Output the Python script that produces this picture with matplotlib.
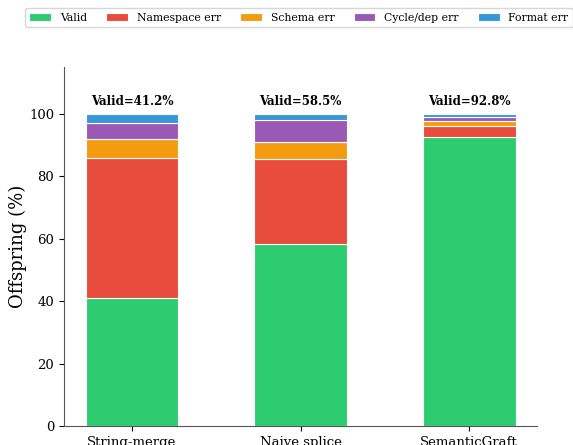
import numpy as np
import matplotlib
matplotlib.use("Agg")
import matplotlib.pyplot as plt

methods = ["String-merge", "Naive splice", "SemanticGraft"]
categories = ["Valid", "Namespace err", "Schema err", "Cycle/dep err", "Format err"]
valid = [41.2, 58.5, 92.8]
namespace_err = [44.7, 27.1, 3.3]
schema_err = [6.2, 5.4, 1.7]
cycle_err = [5.2, 7.1, 1.3]
format_err = [2.7, 1.9, 0.9]
colors = ["#2ecc71", "#e74c3c", "#f39c12", "#9b59b6", "#3498db"]

plt.rcParams["font.family"] = "DejaVu Serif"

fig = plt.figure(figsize=(5.73, 4.45), dpi=100)
ax = fig.add_axes([0.1117, 0.0427, 0.8255, 0.806])

x = np.arange(len(methods))
bottom = np.zeros(len(methods))
for name, vals, c in zip(categories,
                         [valid, namespace_err, schema_err, cycle_err, format_err],
                         colors):
    ax.bar(x, vals, 0.55, bottom=bottom, color=c, edgecolor="white",
           linewidth=0.8, label=name)
    bottom += np.array(vals)

# valid share above each stack
for xi, v, top in zip(x, valid, bottom):
    ax.text(xi, top + 2, "Valid=%.1f%%" % v, ha="center", va="bottom",
            fontsize=8.5, fontweight="bold")

ax.set_xticks(x)
ax.set_xticklabels(methods, fontsize=9.5)
ax.set_yticks([0, 20, 40, 60, 80, 100])
ax.tick_params(axis="y", labelsize=9.5)
ax.set_ylim(0, 115)
ax.set_ylabel("Offspring (%)", fontsize=13, labelpad=1.5)
for s in ["top", "right"]:
    ax.spines[s].set_visible(False)
for s in ["left", "bottom"]:
    ax.spines[s].set_color("#555555")

ax.legend(loc="lower left", bbox_to_anchor=(0.0436, 0.9393),
          bbox_transform=fig.transFigure, borderaxespad=0, ncol=5,
          fontsize=7.8, columnspacing=1.8, frameon=True)

fig.savefig("out.png", dpi=100)
